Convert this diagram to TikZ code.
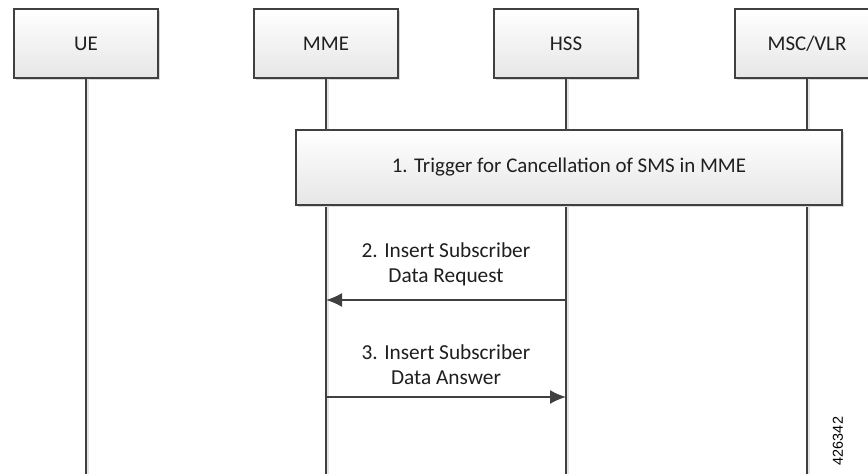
\documentclass[tikz,border=0pt]{standalone}
\usepackage{fontspec}
\setmainfont{Carlito}
\newfontfamily\figfont{Liberation Sans}
\usetikzlibrary{arrows.meta,shadows}
\definecolor{linegray}{HTML}{404040}
\definecolor{boxbottom}{HTML}{E6E6E6}
\tikzset{
  entity/.style={draw=linegray, line width=1.3pt, top color=white, bottom color=boxbottom,
    minimum width=108pt, minimum height=51.75pt, inner sep=0pt,
    font=\fontsize{15.7}{18}\selectfont, text=black!88,
    drop shadow={shadow xshift=1.5pt, shadow yshift=-1.5pt, fill=black!15, opacity=1}},
  life/.style={draw=linegray, line width=1.3pt},
  lifeshadow/.style={draw=black!10, line width=1.3pt},
  msg/.style={draw=linegray, line width=1.3pt, -{Latex[length=12pt,width=10.5pt]}},
  lbl/.style={align=center, inner sep=0pt, text=black!88, font=\fontsize{16}{18.75}\selectfont}
}
\begin{document}
\begin{tikzpicture}[x=0.75pt,y=-0.75pt]
\useasboundingbox (0,0) rectangle (868,474);
\fill[white] (0,0) rectangle (868,474);
% entities
\node[entity] (ue)  at (86,43.5)  {UE};
\node[entity] (mme) at (326,43.5) {MME};
\node[entity] (hss) at (566,43.5) {HSS};
\node[entity] (msc) at (807,43.5) {MSC/VLR};
% lifeline ends
\coordinate (ueend)  at (86,476);
\coordinate (mmeend) at (326,476);
\coordinate (hssend) at (566,476);
\coordinate (mscend) at (807,476);
\foreach \e in {ue,mme,hss,msc}{
  \draw[lifeshadow, transform canvas={xshift=1.6pt}] (\e) -- (\e end);
  \draw[life] (\e) -- (\e end);
}
% trigger box
\node[entity, minimum width=409.5pt, minimum height=56.25pt] (trig) at (569,167.5)
  {1. Trigger for Cancellation of SMS in MME};
% messages
\coordinate (h2) at (566,300);
\coordinate (m2) at (326,300);
\coordinate (m3) at (326,397);
\coordinate (h3) at (566,397);
\draw[msg] (h2) -- (m2);
\draw[msg] (m3) -- (h3);
\node[lbl] (l2) at (446,264.5) {2. Insert Subscriber\\Data Request};
\node[lbl] (l3) at (446,364.5) {3. Insert Subscriber\\Data Answer};
% figure number
\node[rotate=90, inner sep=0pt, font=\figfont\fontsize{10.8}{12}\selectfont] (fig) at (838,441) {426342};
\end{tikzpicture}
\end{document}
